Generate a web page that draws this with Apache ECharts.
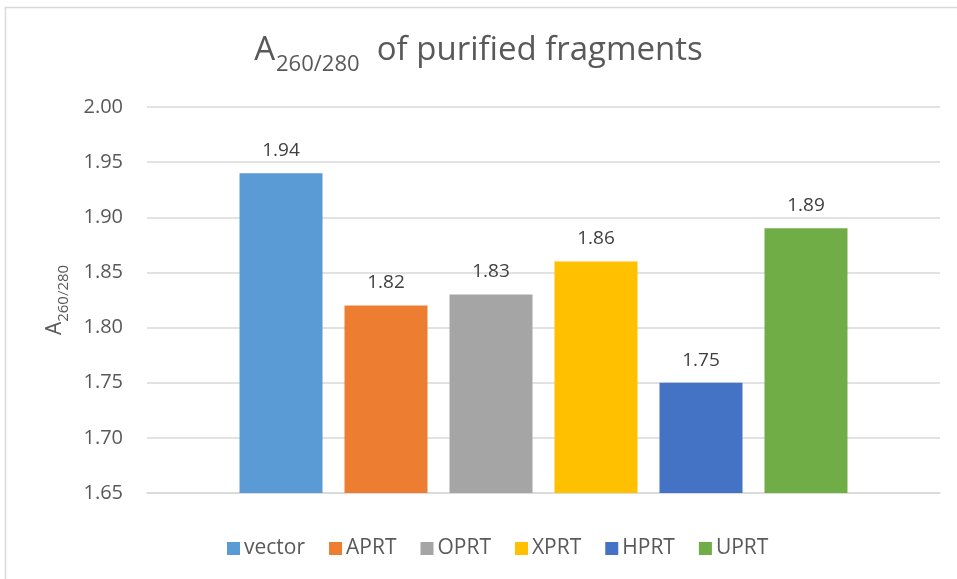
<!DOCTYPE html>
<html>
<head>
<meta charset="utf-8">
<script src="https://cdn.jsdelivr.net/npm/echarts@6/dist/echarts.min.js"></script>
<style>
  html, body { margin: 0; padding: 0; background: #fff; }
  #chart { width: 957px; height: 579px; }
</style>
</head>
<body>
<div id="chart"></div>
<script>
  // samples and their A260/280 readings
  const names = ['vector', 'APRT', 'OPRT', 'XPRT', 'HPRT', 'UPRT']
  const values = [1.94, 1.82, 1.83, 1.86, 1.75, 1.89]
  const colors = ['#5b9bd5', '#ed7d31', '#a5a5a5', '#ffc000', '#4472c4', '#70ad47']
  const categories = ['']

  const font = '"Open Sans", "Noto Sans", sans-serif'
  const myChart = echarts.init(document.getElementById('chart'))

  const series = names.map((n, i) => ({
    name: n,
    type: 'bar',
    data: [values[i]],
    barWidth: 83,
    barGap: '26.5%',
    itemStyle: { color: colors[i] },
    label: {
      show: true,
      position: 'top',
      distance: 13,
      formatter: p => p.value.toFixed(2),
      color: '#404040',
      fontFamily: font,
      fontSize: 19
    }
  }))

  const option = {
    animation: false,
    title: {
      text: '{a|A}{s|260/280}{b|  of purified fragments}',
      left: 'center',
      top: 29,
      textStyle: {
        rich: {
          a: { fontFamily: font, fontSize: 33, fontWeight: 'normal', color: '#595959', lineHeight: 42, verticalAlign: 'top' },
          s: { fontFamily: font, fontSize: 22, fontWeight: 'normal', color: '#595959', lineHeight: 28, padding: [22, 0, 0, 1], verticalAlign: 'bottom' },
          b: { fontFamily: font, fontSize: 33, fontWeight: 'normal', color: '#595959', lineHeight: 42, verticalAlign: 'top' }
        }
      }
    },
    graphic: [{
      type: 'rect',
      shape: { x: 5.5, y: 7.5, width: 960, height: 580 },
      style: { fill: 'none', stroke: '#d9d9d9', lineWidth: 1.5 },
      silent: true
    }],
    legend: {
      data: names,
      top: 533,
      left: 222,
      itemWidth: 13,
      itemHeight: 13,
      itemGap: 24,
      icon: 'rect',
      textStyle: { fontFamily: font, fontSize: 21, color: '#595959', padding: [0, 0, 0, -1] }
    },
    grid: { left: 147, right: 17, top: 107, bottom: 86, containLabel: false },
    xAxis: {
      type: 'category',
      data: categories,
      axisLine: { lineStyle: { color: '#d9d9d9', width: 1.5 } },
      axisTick: { show: false },
      axisLabel: { show: false }
    },
    yAxis: {
      type: 'value',
      min: 1.65,
      max: 2.00,
      interval: 0.05,
      name: '{a|A}{s|260/280}',
      nameLocation: 'middle',
      nameGap: 76,
      nameRotate: 90,
      nameTextStyle: {
        rich: {
          a: { fontFamily: font, fontSize: 21, color: '#595959', lineHeight: 26, verticalAlign: 'top' },
          s: { fontFamily: font, fontSize: 15, color: '#595959', lineHeight: 18, padding: [14, 0, 0, 0], verticalAlign: 'bottom' }
        }
      },
      axisLine: { show: false },
      axisTick: { show: false },
      axisLabel: {
        margin: 24,
        formatter: v => v.toFixed(2),
        fontFamily: font,
        fontSize: 20,
        color: '#595959'
      },
      splitLine: { lineStyle: { color: '#d9d9d9', width: 1.5 } }
    },
    series: series
  }
  myChart.setOption(option)
</script>
</body>
</html>
